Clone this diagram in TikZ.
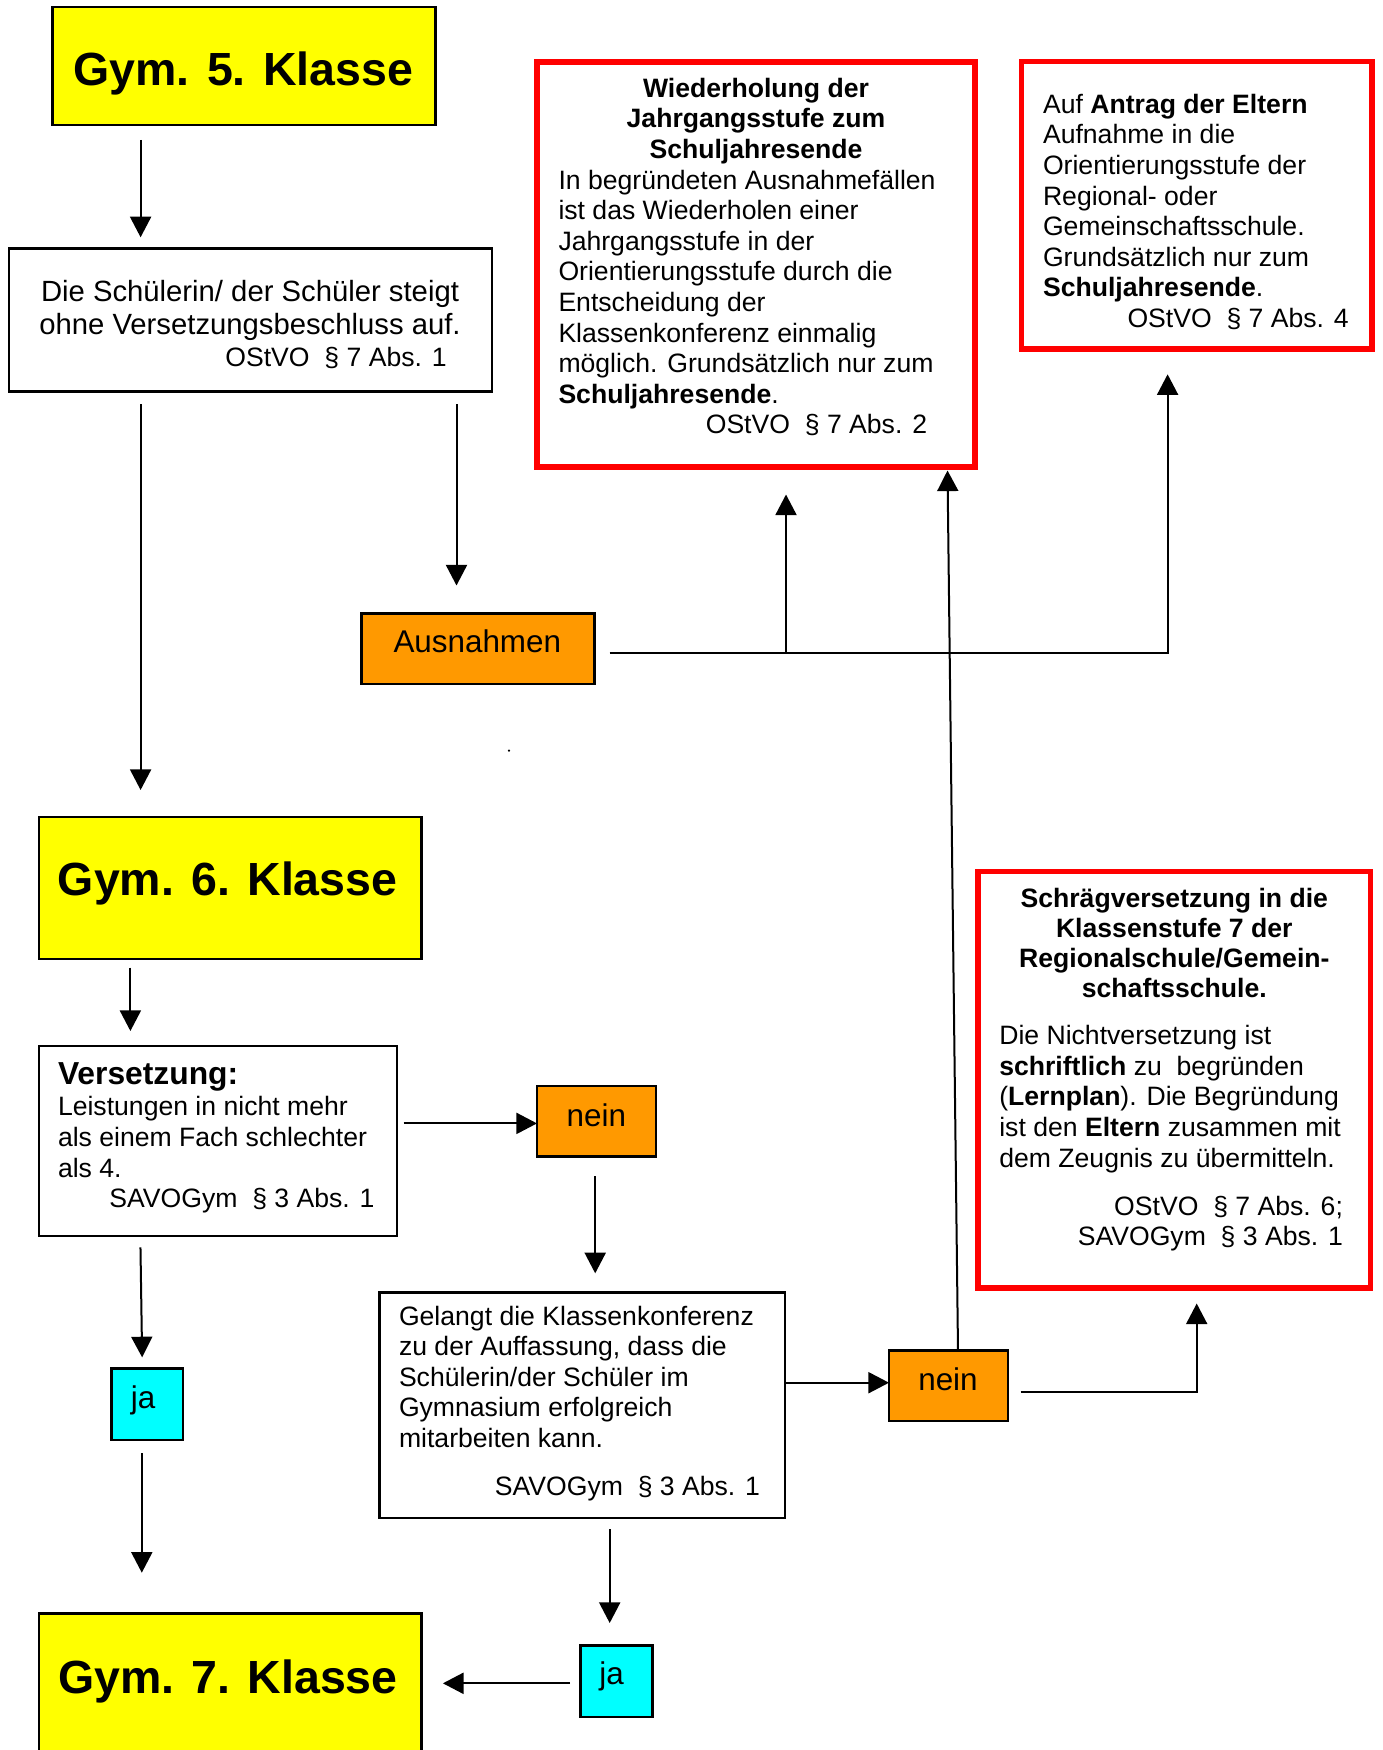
\documentclass[tikz,border=0pt]{standalone}
\usepackage{fontspec}
\setmainfont{Liberation Sans}
\usetikzlibrary{arrows.meta}
\definecolor{gymyellow}{RGB}{255,255,0}
\definecolor{boxorange}{RGB}{255,153,0}
\definecolor{boxcyan}{RGB}{0,255,255}
\definecolor{boxred}{RGB}{255,0,0}
\newcommand\fbody{\fontsize{13.3}{15.3}\selectfont}
\newcommand\fgym{\fontsize{23.25}{28}\selectfont\bfseries}
\newcommand\flabel{\fontsize{15.7}{18}\selectfont}
\begin{document}
\begin{tikzpicture}[x=0.5pt,y=-0.5pt,
  plain/.style={draw=black, line width=1.1pt, inner sep=0pt, outer sep=0pt, fill=white},
  gymbox/.style={plain, fill=gymyellow},
  orangebox/.style={plain, fill=boxorange},
  cyanbox/.style={plain, fill=boxcyan},
  redbox/.style={draw=boxred, line width=2.8pt, inner sep=0pt, outer sep=0pt, fill=white},
  txt/.style={inner sep=0pt, outer sep=0pt, anchor=base west, font=\fbody},
  ctxt/.style={inner sep=0pt, outer sep=0pt, anchor=base},
  arr/.style={draw=black, line width=1pt, -{Triangle[length=10.3pt,width=10.5pt]}},
]
\path[use as bounding box, fill=white] (0,0) rectangle (1382,1750);

% ---------- boxes ----------
\node[gymbox, minimum width=191.5pt, minimum height=59pt] (g5) at (244,66) {};
\node[plain, minimum width=241.5pt, minimum height=71.5pt] (s1) at (250.5,320) {};
\node[orangebox, minimum width=116.5pt, minimum height=35.25pt] (aus) at (478,648.75) {};
\node[redbox, minimum width=219pt, minimum height=202.5pt] (r1) at (756,264.5) {};
\node[redbox, minimum width=175.25pt, minimum height=143.75pt] (r2) at (1196.75,205.25) {};
\node[gymbox, minimum width=191.25pt, minimum height=71pt] (g6) at (230.25,888) {};
\node[plain, minimum width=179pt, minimum height=95pt] (v) at (218,1141) {};
\node[orangebox, minimum width=59.5pt, minimum height=35.25pt] (n1) at (596.5,1121.25) {};
\node[plain, minimum width=202.75pt, minimum height=112.75pt] (kk) at (582.25,1405.25) {};
\node[orangebox, minimum width=59.5pt, minimum height=35.25pt] (n2) at (948.5,1385.75) {};
\node[redbox, minimum width=196.25pt, minimum height=208.25pt] (r3) at (1174.25,1079.75) {};
\node[cyanbox, minimum width=35.75pt, minimum height=35.75pt] (ja1) at (147.25,1404.25) {};
\node[cyanbox, minimum width=36pt, minimum height=35.75pt] (ja2) at (616.5,1681.25) {};
\node[gymbox, minimum width=191.25pt, minimum height=93.25pt] (g7) at (230.25,1706.75) {};

% ---------- texts ----------
\node[ctxt, font=\fgym] (g5t) at (243.3,86) {Gym. 5. Klasse};
\node[ctxt, font=\fgym] (g6t) at (227.7,895.7) {Gym. 6. Klasse};
\node[ctxt, font=\fgym] (g7t) at (227.9,1693) {Gym. 7. Klasse};

\node[ctxt] (s1t) at (250,301.7) {\parbox[t]{225pt}{\centering\fontsize{14.63}{16.25}\selectfont
Die Schülerin/ der Schüler steigt\\ohne Versetzungsbeschluss auf.}};
\node[txt] (s1r) at (225.4,366.7) {OStVO\ \ § 7 Abs. 1};

\node[txt] (r1t) at (558.5,97.3) {\parbox[t]{197.5pt}{\fbody
{\centering\bfseries Wiederholung der\\Jahrgangsstufe zum\\Schuljahresende\par}%
\raggedright
In begründeten Ausnahmefällen\\
ist das Wiederholen einer\\
Jahrgangsstufe in der\\
Orientierungsstufe durch die\\
Entscheidung der\\
Klassenkonferenz einmalig\\
möglich. Grundsätzlich nur zum\\
\textbf{Schuljahresende}.\\
\hspace*{73.65pt}OStVO\ \ § 7 Abs. 2}};

\node[txt] (r2t) at (1043,113.3) {\parbox[t]{170pt}{\raggedright\fbody
Auf \textbf{Antrag der Eltern}\\
Aufnahme in die\\
Orientierungsstufe der\\
Regional- oder\\
Gemeinschaftsschule.\\
Grundsätzlich nur zum\\
\textbf{Schuljahresende}.\\
\hspace*{42.25pt}OStVO\ \ § 7 Abs. 4}};

\node[ctxt, font=\flabel] (aust) at (477.3,652.9) {Ausnahmen};

\node[txt, font=\fontsize{15.9}{18}\selectfont\bfseries] (vh) at (58,1084.6) {Versetzung:};
\node[txt] (vt) at (58,1115.8) {\parbox[t]{175pt}{\raggedright\fontsize{13.3}{15.35}\selectfont
Leistungen in nicht mehr\\
als einem Fach schlechter\\
als 4.\\
\hspace*{25.7pt}SAVOGym\ \ § 3 Abs. 1}};

\node[ctxt, font=\flabel] (n1t) at (596.3,1126) {nein};
\node[ctxt, font=\flabel] (n2t) at (948,1390.3) {nein};
\node[ctxt, font=\flabel] (ja1t) at (143,1408) {ja};
\node[ctxt, font=\flabel] (ja2t) at (611.5,1684.3) {ja};

\node[txt] (kkt) at (399,1325) {\parbox[t]{195pt}{\raggedright\fbody
Gelangt die Klassenkonferenz\\
zu der Auffassung, dass die\\
Schülerin/der Schüler im\\
Gymnasium erfolgreich\\
mitarbeiten kann.}};
\node[txt] (kkr) at (494.9,1495) {SAVOGym\ \ § 3 Abs. 1};

\node[ctxt] (r3h) at (1174.3,907) {\parbox[t]{185pt}{\centering\fontsize{13.3}{15}\selectfont\bfseries
Schrägversetzung in die\\
Klassenstufe 7 der\\
Regionalschule/Gemein-\\
schaftsschule.}};
\node[txt] (r3t) at (999.3,1044.7) {\parbox[t]{185pt}{\raggedright\fbody
Die Nichtversetzung ist\\
\textbf{schriftlich} zu\ \ begründen\\
(\textbf{Lernplan}). Die Begründung\\
ist den \textbf{Eltern} zusammen mit\\
dem Zeugnis zu übermitteln.}};
\node[inner sep=0pt, outer sep=0pt, anchor=base east] (r3r) at (1342.9,1215) {\parbox[t]{150pt}{\raggedleft\fontsize{13.3}{15}\selectfont
OStVO\ \ § 7 Abs. 6;\\
SAVOGym\ \ § 3 Abs. 1}};

% stray dot
\fill (509,750.6) circle (0.6pt);

% ---------- connector columns / rows ----------
\coordinate (cA) at (140.6,0);
\coordinate (cB) at (456.5,0);
\coordinate (cR1) at (786,0);
\coordinate (cR2) at (1167.6,0);
\coordinate (rowA) at (0,653);
\coordinate (cC) at (130.4,0);
\coordinate (rowB) at (0,1123.4);
\coordinate (cD) at (595.2,0);
\coordinate (rowC) at (0,1382.7);
\coordinate (cS1) at (958,0);
\coordinate (cS2) at (947.45,0);
\coordinate (rowD) at (0,1392.2);
\coordinate (cR3) at (1196.7,0);
\coordinate (cE1) at (140.3,0);
\coordinate (cE2) at (142.3,0);
\coordinate (cF) at (141.8,0);
\coordinate (cG) at (609.7,0);
\coordinate (rowE) at (0,1683.3);

% ---------- connectors ----------
\draw[arr, shorten <=7.5pt, shorten >=5.6pt] (g5.south -| cA) -- (s1.north -| cA);
\draw[arr, shorten <=6.25pt, shorten >=13.5pt] (s1.south -| cA) -- (g6.north -| cA);
\draw[arr, shorten <=6.25pt, shorten >=14pt] (s1.south -| cB) -- (aus.north -| cB);
\draw[arr, shorten <=7.5pt, shorten >=12.65pt] (aus.east |- rowA) -| (r2.south -| cR2);
\draw[arr, shorten >=13.75pt] (rowA -| cR1) -- (r1.south -| cR1);
\draw[arr, shorten <=4.3pt, shorten >=7.5pt] (g6.south -| cC) -- (v.north -| cC);
\draw[arr, shorten <=3.3pt] (v.east |- rowB) -- (n1.west |- rowB);
\draw[arr, shorten <=9.75pt, shorten >=9.6pt] (n1.south -| cD) -- (kk.north -| cD);
\draw[arr] (kk.east |- rowC) -- (n2.west |- rowC);
\draw[arr, shorten >=1.75pt] (n2.north -| cS1) -- (r1.south -| cS2);
\draw[arr, shorten <=6.3pt, shorten >=7.75pt] (n2.east |- rowD) -| (r3.south -| cR3);
\draw[arr, shorten <=5.65pt, shorten >=5.6pt] (v.south -| cE1) -- (ja1.north -| cE2);
\draw[arr, shorten <=6.65pt, shorten >=20.4pt] (ja1.south -| cF) -- (g7.north -| cF);
\draw[arr, shorten <=5.5pt, shorten >=11.25pt] (kk.south -| cG) -- (ja2.north -| cG);
\draw[arr, shorten <=5.25pt, shorten >=10.7pt] (ja2.west |- rowE) -- (g7.east |- rowE);
\end{tikzpicture}
\end{document}
